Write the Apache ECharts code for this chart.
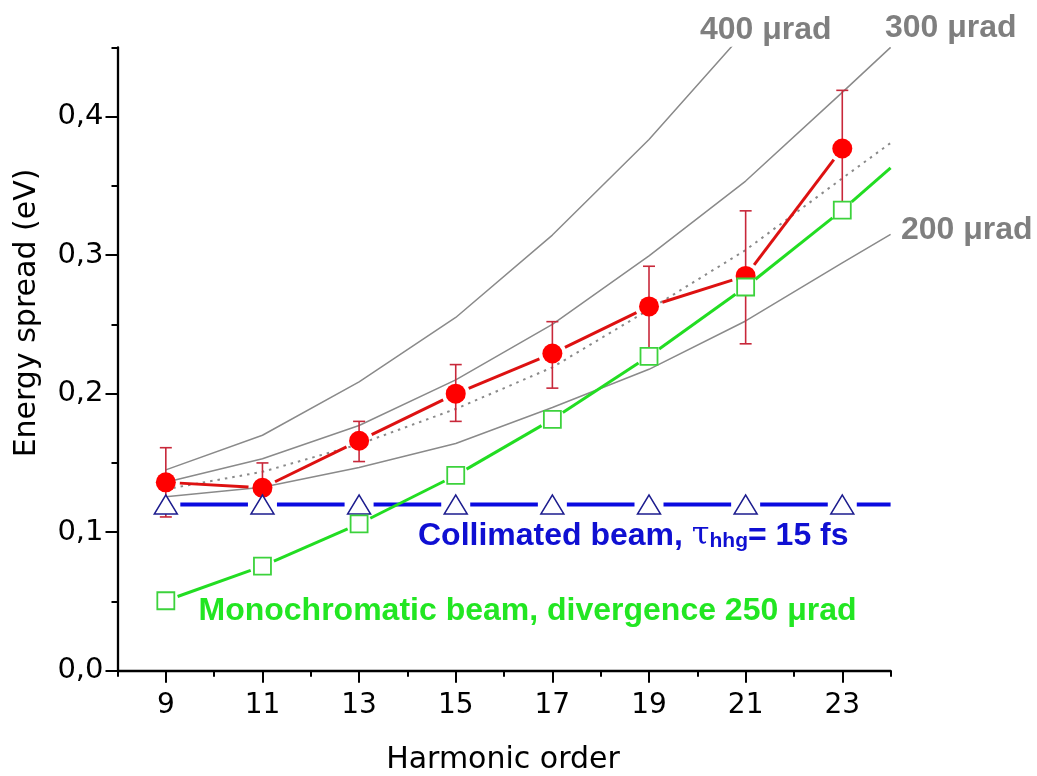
<!DOCTYPE html>
<html><head><meta charset="utf-8">
<script src="https://cdn.jsdelivr.net/npm/echarts@6/dist/echarts.min.js"></script>
<style>html,body{margin:0;padding:0;background:#fff}#c{width:1037px;height:776px}</style>
</head><body><div id="c"></div>
<script>
// ---- data ----
const harmonics = [9, 11, 13, 15, 17, 19, 21, 23];
const harmonicsExt = [9, 11, 13, 15, 17, 19, 21, 23, 24];
const measured = [0.136, 0.132, 0.166, 0.200, 0.229, 0.263, 0.285, 0.377];
const errLow  = [0.111, 0.116, 0.151, 0.180, 0.204, 0.229, 0.236, 0.335];
const errHigh = [0.161, 0.150, 0.180, 0.221, 0.252, 0.292, 0.332, 0.419];
const mono = [0.0505, 0.0755, 0.106, 0.141, 0.1815, 0.227, 0.277, 0.3325, 0.363];
const collimated = [0.12, 0.12, 0.12, 0.12, 0.12, 0.12, 0.12, 0.12, 0.12];
const div400X = [9, 11, 13, 15, 17, 19, 21];
const div400 = [0.145, 0.170, 0.2085, 0.255, 0.3145, 0.3835, 0.462];
const div300 = [0.136, 0.153, 0.177, 0.210, 0.250, 0.2995, 0.3535, 0.4175, 0.450];
const div200 = [0.1255, 0.1325, 0.1467, 0.164, 0.190, 0.2176, 0.2525, 0.2944, 0.315];
const fit = [0.131, 0.1436, 0.1635, 0.189, 0.219, 0.2607, 0.3037, 0.3555, 0.381];
const xMajorTicks = [9, 11, 13, 15, 17, 19, 21, 23];
const xMinorTicks = [8, 10, 12, 14, 16, 18, 20, 22, 24];
const yMajorTicks = [0, 0.1, 0.2, 0.3, 0.4];
const yMinorTicks = [0.05, 0.15, 0.25, 0.35, 0.45];

const zip = (xs, ys) => xs.map((x, i) => [x, ys[i]]);
const segs = (xs, ys) => xs.slice(1).map((x, i) => [xs[i], ys[i], x, ys[i + 1]]);
const chart = echarts.init(document.getElementById('c'));
const GRAY = '#8a8a8a';
const grayLine = (xs, ys) => ({
  type: 'line', data: zip(xs, ys), symbol: 'none', z: 1, silent: true,
  lineStyle: { color: GRAY, width: 1.5 }
});
// connecting line with small gaps at the markers (Origin style)
const gapLine = (xs, ys, color, width, gap, z) => ({
  type: 'custom', z: z, silent: true, clip: true,
  data: segs(xs, ys),
  encode: { x: [0, 2], y: [1, 3] },
  renderItem: (params, api) => {
    const x1 = api.value(0), x2 = api.value(2);
    const a = api.coord([x1, api.value(1)]);
    const b = api.coord([x2, api.value(3)]);
    const dx = b[0] - a[0], dy = b[1] - a[1];
    const len = Math.hypot(dx, dy) || 1;
    const ux = dx / len, uy = dy / len;
    const g1 = harmonics.includes(x1) ? gap : 0;
    const g2 = harmonics.includes(x2) ? gap : 0;
    return { type: 'line',
      shape: { x1: a[0] + ux * g1, y1: a[1] + uy * g1, x2: b[0] - ux * g2, y2: b[1] - uy * g2 },
      style: { stroke: color, lineWidth: width } };
  }
});
const markers = (xs, ys, symbol, size, itemStyle, z) => ({
  type: 'scatter', z: z, silent: true, data: zip(xs, ys),
  symbol: symbol, symbolSize: size, itemStyle: Object.assign({ opacity: 1 }, itemStyle)
});
const regFont = 'DejaVu Sans';
const boldFont = 'Liberation Sans';

chart.setOption({
  animation: false,
  backgroundColor: '#fff',
  grid: { left: 117.5, right: 146.4, top: 47.4, bottom: 105.3 },
  xAxis: [{
    type: 'value', min: 8, max: 24, interval: 1,
    axisLine: { onZero: false, lineStyle: { color: '#000', width: 2.3 } },
    axisTick: { customValues: xMajorTicks, length: 12, lineStyle: { color: '#000', width: 2 } },
    axisLabel: { customValues: xMajorTicks, fontSize: 28, fontFamily: regFont, color: '#000', margin: 21 },
    splitLine: { show: false }
  }, {
    type: 'value', min: 8, max: 24, position: 'bottom',
    axisLine: { show: false, onZero: false },
    axisTick: { customValues: xMinorTicks, length: 6, lineStyle: { color: '#000', width: 2 } },
    axisLabel: { show: false }, splitLine: { show: false }
  }],
  yAxis: [{
    type: 'value', min: 0, max: 0.45, interval: 0.05,
    axisLine: { show: true, onZero: false, lineStyle: { color: '#000', width: 2.3 } },
    axisTick: { show: true, customValues: yMajorTicks, length: 12, lineStyle: { color: '#000', width: 2 } },
    axisLabel: { customValues: yMajorTicks, fontSize: 29, fontFamily: regFont, color: '#000', margin: 14,
      formatter: v => v.toFixed(1).replace('.', ',') },
    splitLine: { show: false }
  }, {
    type: 'value', min: 0, max: 0.45, position: 'left',
    axisLine: { show: false, onZero: false },
    axisTick: { show: true, customValues: yMinorTicks, length: 6, lineStyle: { color: '#000', width: 2 } },
    axisLabel: { show: false }, splitLine: { show: false }
  }],
  series: [
    grayLine(div400X, div400),
    grayLine(harmonicsExt, div300),
    grayLine(harmonicsExt, div200),
    { type: 'line', data: zip(harmonicsExt, fit), symbol: 'none', z: 1, silent: true,
      lineStyle: { color: GRAY, width: 2, type: [2.5, 5] } },
    { type: 'custom', z: 2, silent: true,
      data: harmonics.map((x, i) => [x, errLow[i], errHigh[i]]),
      encode: { x: 0, y: [1, 2] },
      renderItem: (params, api) => {
        const x = api.value(0);
        const p1 = api.coord([x, api.value(1)]);
        const p2 = api.coord([x, api.value(2)]);
        const w = 6;
        const st = { stroke: '#c8283a', lineWidth: 1.6 };
        return { type: 'group', children: [
          { type: 'line', shape: { x1: p1[0], y1: p1[1], x2: p2[0], y2: p2[1] }, style: st },
          { type: 'line', shape: { x1: p1[0] - w, y1: p1[1], x2: p1[0] + w, y2: p1[1] }, style: st },
          { type: 'line', shape: { x1: p2[0] - w, y1: p2[1], x2: p2[0] + w, y2: p2[1] }, style: st }
        ]};
      }
    },
    gapLine(harmonics, measured, '#dd1111', 3, 14, 3),
    markers(harmonics, measured, 'circle', 20, { color: '#ff0000' }, 3),
    gapLine(harmonicsExt, collimated, '#0a0ae0', 4, 14.5, 4),
    markers(harmonics, collimated.slice(0, harmonics.length), 'triangle', [23, 19],
      { color: '#fff', borderColor: '#1c1c8e', borderWidth: 1.5 }, 4),
    gapLine(harmonicsExt, mono, '#22dd22', 3, 12.5, 5),
    markers(harmonics, mono.slice(0, harmonics.length), 'rect', 17,
      { color: '#fff', borderColor: '#3cd23c', borderWidth: 1.8 }, 5)
  ],
  graphic: [
    { type: 'text', x: 27, y: 313, rotation: Math.PI / 2,
      style: { text: 'Energy spread (eV)', font: '30px "DejaVu Sans"', fill: '#000', align: 'center', verticalAlign: 'middle' } },
    { type: 'text', x: 503, y: 760,
      style: { text: 'Harmonic order', font: '30px "DejaVu Sans"', fill: '#000', align: 'center', verticalAlign: 'middle' } },
    { type: 'text', x: 700, y: 30.3,
      style: { text: '400 μrad', font: 'bold 32px "Liberation Sans"', fill: '#7f7f7f', align: 'left', verticalAlign: 'middle' } },
    { type: 'text', x: 885, y: 28,
      style: { text: '300 μrad', font: 'bold 32px "Liberation Sans"', fill: '#7f7f7f', align: 'left', verticalAlign: 'middle' } },
    { type: 'text', x: 901, y: 230,
      style: { text: '200 μrad', font: 'bold 32px "Liberation Sans"', fill: '#7f7f7f', align: 'left', verticalAlign: 'middle' } },
    { type: 'text', x: 198.5, y: 611.5,
      style: { text: 'Monochromatic beam, divergence 250 μrad', font: 'bold 32px "Liberation Sans"', fill: '#22e622', align: 'left', verticalAlign: 'middle' } },
    { type: 'text', x: 418, y: 520,
      style: {
        text: '{a|Collimated beam, }{t|τ}{s|hhg}{a|= 15 fs}',
        align: 'left', verticalAlign: 'top',
        rich: {
          a: { fontFamily: boldFont, fontWeight: 'bold', fontSize: 32, lineHeight: 32, verticalAlign: 'top', fill: '#0f0fd2' },
          t: { fontFamily: 'DejaVu Serif', fontWeight: 'normal', fontSize: 32, lineHeight: 32, verticalAlign: 'top', fill: '#0f0fd2' },
          s: { fontFamily: boldFont, fontWeight: 'bold', fontSize: 21, lineHeight: 21, padding: [20, 0, 0, 0], verticalAlign: 'bottom', fill: '#0f0fd2' }
        }
      } }
  ]
});
</script></body></html>
